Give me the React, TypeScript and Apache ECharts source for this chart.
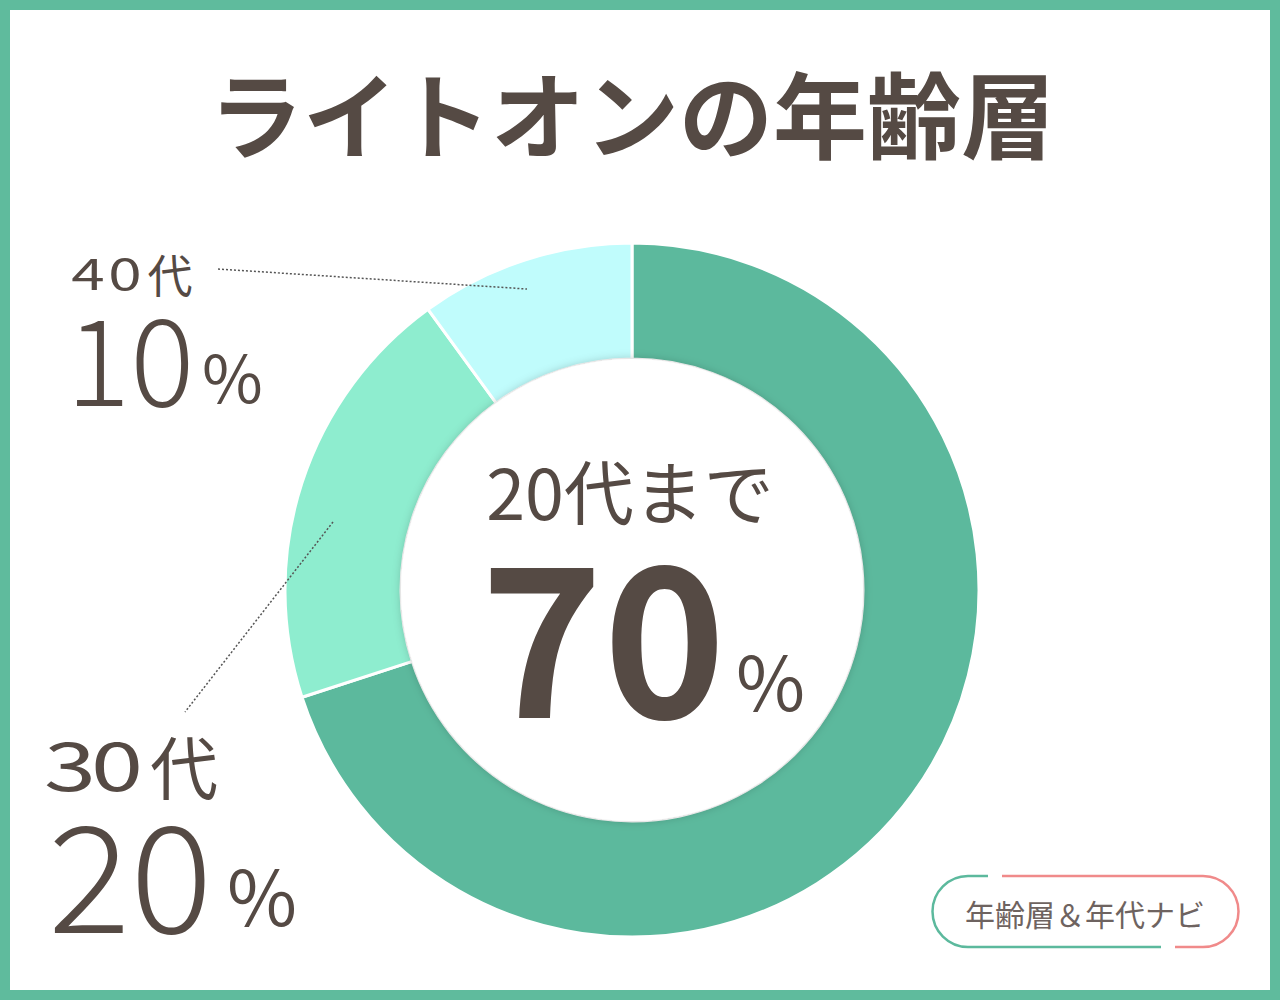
import { useEffect, useRef } from "react";
import * as echarts from "echarts";

// data
const ageGroups = ["20代まで", "30代", "40代"];
const shares = [70, 20, 10];
const chartTitle = "ライトオンの年齢層";
const brandName = "年齢層＆年代ナビ";

const sliceColors = ["#5cb99d", "#8eedcf", "#c0fcfc"];
const ink = "#554a44";
const font = '"Noto Sans CJK JP", "Noto Sans", sans-serif';

const CX = 632;
const CY = 590;

const txt = (
  text: string,
  x: number,
  y: number,
  fontSize: number,
  opts: Record<string, any> = {}
) => ({
  type: "text",
  x,
  y,
  z: 20,
  scaleX: opts.scaleX || 1,
  style: {
    text,
    fill: ink,
    fontSize,
    fontFamily: font,
    fontWeight: opts.fontWeight || "normal",
    align: opts.align || "left",
    verticalAlign: "middle",
  },
});

// one glyph per element so the wide, airy lettering of the labels can be kept
const spaced = (
  text: string,
  centers: number[],
  digitY: number,
  kanjiY: number,
  digitSize: number,
  kanjiSize: number,
  digitScale: number
) =>
  text.split("").map((ch, i) => {
    const isDigit = /[0-9]/.test(ch);
    return txt(ch, centers[i], isDigit ? digitY : kanjiY, isDigit ? digitSize : kanjiSize, {
      align: "center",
      scaleX: isDigit ? digitScale : 1,
    });
  });

export default function App() {
  const chartRef = useRef<HTMLDivElement>(null);

  useEffect(() => {
    document.body.style.margin = "0";
    if (!chartRef.current) return;
    const chart = echarts.init(chartRef.current, null, { renderer: "svg" });

    const pieData = ageGroups.map((name, i) => ({
      name,
      value: shares[i],
      itemStyle: { color: sliceColors[i] },
    }));

    chart.setOption({
      animation: false,
      backgroundColor: "#ffffff",
      series: [
        {
          type: "pie",
          center: [CX, CY],
          radius: [231, 347],
          startAngle: 90,
          clockwise: true,
          silent: true,
          label: { show: false },
          labelLine: { show: false },
          itemStyle: { borderColor: "#ffffff", borderWidth: 3 },
          data: pieData,
        },
      ],
      graphic: [
        // frame
        {
          type: "rect",
          shape: { x: 5, y: 5, width: 1270, height: 990 },
          style: { fill: "none", stroke: "#5fbb9d", lineWidth: 10 },
          z: 30,
        },
        // inner white disc with soft shadow
        {
          type: "circle",
          shape: { cx: CX, cy: CY, r: 231 },
          style: {
            fill: "#ffffff",
            shadowBlur: 10,
            shadowColor: "rgba(0,0,0,0.22)",
          },
          z: 10,
        },
        txt(chartTitle, 632, 111, 94, { align: "center", fontWeight: "bold" }),
        // center label
        txt(ageGroups[0], 630, 489, 70, { align: "center" }),
        txt(String(shares[0]), 726, 627, 208, { align: "right", fontWeight: "bold" }),
        txt("%", 736, 678, 75),
        // 40代
        ...spaced(ageGroups[2], [88, 125, 170], 271, 273, 43, 45, 1.4),
        txt(String(shares[2]), 66, 354, 120, { fontWeight: 300 }),
        txt("%", 202, 374, 66),
        // 30代
        ...spaced(ageGroups[1], [70, 117, 184], 761, 764, 67, 68, 1.4),
        txt(String(shares[1]), 48, 868, 148, { fontWeight: 300, scaleX: 1.04 }),
        txt("%", 227, 893, 76),
        // leader lines
        {
          type: "line",
          z: 20,
          shape: { x1: 218, y1: 269, x2: 527, y2: 289 },
          style: { stroke: "#555555", lineWidth: 1.5, lineDash: [2, 2] },
        },
        {
          type: "line",
          z: 20,
          shape: { x1: 333, y1: 522, x2: 185, y2: 712 },
          style: { stroke: "#555555", lineWidth: 1.5, lineDash: [2, 2] },
        },
        // brand pill
        {
          type: "arc",
          z: 20,
          shape: { cx: 968, cy: 911.5, r: 35.5, startAngle: Math.PI / 2, endAngle: (Math.PI * 3) / 2, clockwise: true },
          style: { stroke: "#5cb99d", lineWidth: 2.5, fill: "none" },
        },
        {
          type: "line",
          z: 20,
          shape: { x1: 968, y1: 876, x2: 988, y2: 876 },
          style: { stroke: "#5cb99d", lineWidth: 2.5 },
        },
        {
          type: "line",
          z: 20,
          shape: { x1: 968, y1: 947, x2: 1161, y2: 947 },
          style: { stroke: "#5cb99d", lineWidth: 2.5 },
        },
        {
          type: "arc",
          z: 20,
          shape: { cx: 1203, cy: 911.5, r: 35.5, startAngle: -Math.PI / 2, endAngle: Math.PI / 2, clockwise: true },
          style: { stroke: "#f08a8a", lineWidth: 2.5, fill: "none" },
        },
        {
          type: "line",
          z: 20,
          shape: { x1: 1002, y1: 876, x2: 1203, y2: 876 },
          style: { stroke: "#f08a8a", lineWidth: 2.5 },
        },
        {
          type: "line",
          z: 20,
          shape: { x1: 1175, y1: 947, x2: 1203, y2: 947 },
          style: { stroke: "#f08a8a", lineWidth: 2.5 },
        },
        {
          type: "text",
          x: 1085,
          y: 913,
          z: 20,
          style: {
            text: brandName,
            fill: "#6e6360",
            fontSize: 30,
            fontFamily: font,
            align: "center",
            verticalAlign: "middle",
          },
        },
      ],
    });

    return () => chart.dispose();
  }, []);

  return <div ref={chartRef} style={{ width: 1280, height: 1000 }} />;
}
